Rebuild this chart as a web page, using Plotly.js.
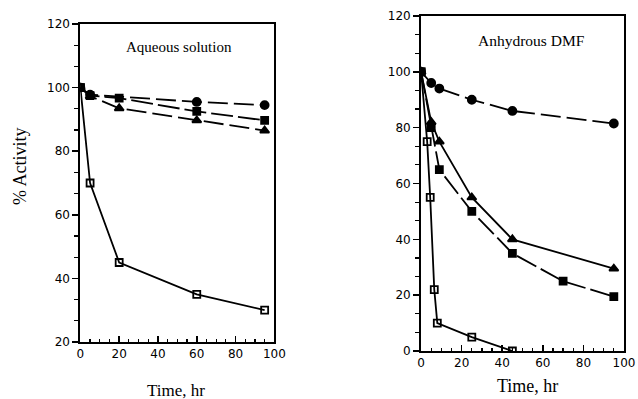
<!DOCTYPE html>
<html>
<head>
<meta charset="utf-8">
<script src="https://cdn.plot.ly/plotly-3.0.1.min.js"></script>
<style>html,body{margin:0;padding:0;background:#fff;}#chart{width:638px;height:399px;}</style>
</head>
<body>
<div id="chart"></div>
<script>
// Aqueous solution panel
const aqCircleX = [0, 5, 60, 95];
const aqCircleY = [100, 97.8, 95.5, 94.5];
const aqSquareX = [0, 5, 20, 60, 95];
const aqSquareY = [100, 97.5, 96.7, 92.5, 89.7];
const aqTriX = [0, 5, 20, 60, 95];
const aqTriY = [100, 97.3, 93.5, 89.7, 86.5];
const aqOpenX = [0, 5, 20, 60, 95];
const aqOpenY = [100, 70, 45, 35, 30];

// Anhydrous DMF panel
const dmfCircleX = [0, 5, 9, 25, 45, 95];
const dmfCircleY = [100, 96, 94, 90, 86, 81.5];
const dmfTriX = [0, 5, 9, 25, 45, 95];
const dmfTriY = [100, 82, 75, 55, 40, 29.5];
const dmfSquareX = [0, 5, 9, 25, 45, 70, 95];
const dmfSquareY = [100, 80, 65, 50, 35, 25, 19.5];
const dmfOpenX = [0, 3, 4.5, 6.5, 8, 25, 45];
const dmfOpenY = [100, 75, 55, 22, 10, 5, 0];

const panelTitles = ['Aqueous solution', 'Anhydrous DMF'];
const xTitle = 'Time, hr';
const yTitle = '% Activity';

function tr(x, y, xa, ya, sym, dash, size) {
  return {
    x: x, y: y, xaxis: xa, yaxis: ya, type: 'scatter', mode: 'lines+markers',
    line: {color: '#000', width: 1.8, dash: dash},
    marker: {symbol: sym, size: size, color: '#000', line: {color: '#000', width: 1.8}},
    showlegend: false
  };
}

const data = [
  tr(aqCircleX, aqCircleY, 'x', 'y', 'circle', '20px,6px', 8),
  tr(aqSquareX, aqSquareY, 'x', 'y', 'square', '22px,5px', 7),
  tr(aqTriX, aqTriY, 'x', 'y', 'triangle-up', '20px,6px', 8),
  tr(aqOpenX, aqOpenY, 'x', 'y', 'square-open', 'solid', 7),
  tr(dmfCircleX, dmfCircleY, 'x2', 'y2', 'circle', '20px,6px', 8),
  tr(dmfTriX, dmfTriY, 'x2', 'y2', 'triangle-up', 'solid', 8),
  tr(dmfSquareX, dmfSquareY, 'x2', 'y2', 'square', '22px,5px', 7),
  tr(dmfOpenX, dmfOpenY, 'x2', 'y2', 'square-open', 'solid', 7)
];

const tickFont = {family: 'DejaVu Sans, Arial, sans-serif', size: 12, color: '#000'};
const serif = 'Liberation Serif, Times New Roman, serif';

function xAxis(domain, anchor) {
  return {
    domain: domain, anchor: anchor, range: [0, 100], tickmode: 'linear', tick0: 0, dtick: 20,
    showline: true, linecolor: '#000', linewidth: 2, mirror: true,
    ticks: 'inside', ticklen: 6, tickwidth: 1.5, tickcolor: '#000',
    minor: {dtick: 5, ticks: 'inside', ticklen: 3, tickwidth: 1.2, tickcolor: '#000', showgrid: false},
    showgrid: false, zeroline: false, tickfont: tickFont
  };
}
function yAxis(domain, anchor, range) {
  return {
    domain: domain, anchor: anchor, range: range, tickmode: 'linear', tick0: 0, dtick: 20,
    showline: true, linecolor: '#000', linewidth: 2, mirror: true,
    ticks: 'outside', ticklen: 6, tickwidth: 1.5, tickcolor: '#000',
    minor: {tick0: 0, dtick: 20 / 3, ticks: 'outside', ticklen: 4, tickwidth: 1.2, tickcolor: '#000', showgrid: false},
    showgrid: false, zeroline: false, tickfont: tickFont
  };
}

function ann(text, x, y, size, angle) {
  return {text: text, xref: 'paper', yref: 'paper', x: x / 638, y: 1 - y / 399,
    xanchor: 'center', yanchor: 'middle', showarrow: false, textangle: angle || 0,
    font: {family: serif, size: size, color: '#000'}};
}

const layout = {
  width: 638, height: 399,
  margin: {l: 0, r: 0, t: 0, b: 0},
  paper_bgcolor: '#fff', plot_bgcolor: '#fff',
  xaxis: xAxis([0.126, 0.430], 'y'),
  yaxis: yAxis([0.1429, 0.9398], 'x', [20, 120]),
  xaxis2: xAxis([0.660, 0.978], 'y2'),
  yaxis2: yAxis([0.1203, 0.9599], 'x2', [0, 120]),
  annotations: [
    ann(panelTitles[0], 179, 47, 15),
    ann(panelTitles[1], 531, 40, 15.5),
    ann(xTitle, 176, 390, 17),
    ann(xTitle, 527, 386, 18),
    ann(yTitle, 20, 166, 18, -90)
  ]
};

Plotly.newPlot('chart', data, layout, {displayModeBar: false, staticPlot: true});
</script>
</body>
</html>
